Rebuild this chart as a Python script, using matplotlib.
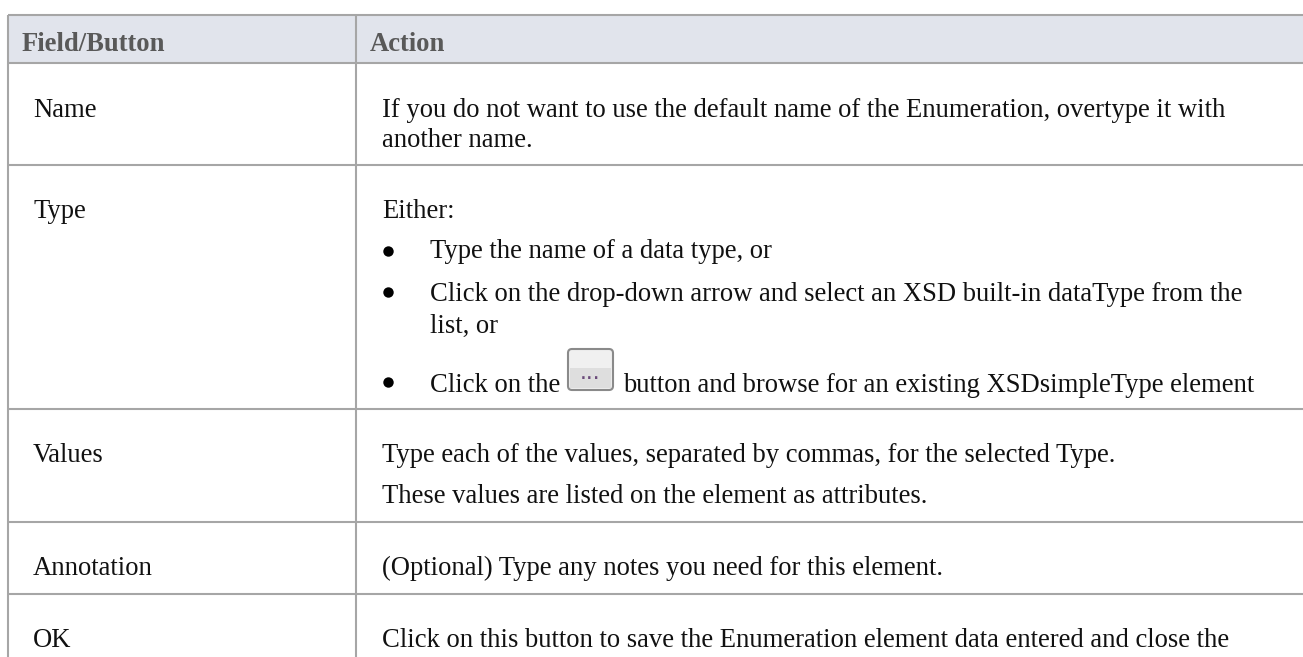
"""Enumeration dialog field table, drawn as a plain matplotlib figure."""

import matplotlib
matplotlib.use("Agg")
import matplotlib.pyplot as plt
from matplotlib.patches import FancyBboxPatch, Rectangle

# ── table content ─────────────────────────────────────────────
HEADERS = ["Field/Button", "Action"]
FIELDS = ["Name", "Type", "Values", "Annotation", "OK"]
NAME_LINES = [
    "If you do not want to use the default name of the Enumeration, overtype it with",
    "another name.",
]
TYPE_INTRO = "Either:"
TYPE_BULLETS = [
    "Type the name of a data type, or",
    "Click on the drop-down arrow and select an XSD built-in dataType from the",
    "list, or",
]
BUTTON_BEFORE = "Click on the"
BUTTON_LABEL = "..."
BUTTON_AFTER = "button and browse for an existing XSDsimpleType element"
VALUES_LINES = [
    "Type each of the values, separated by commas, for the selected Type.",
    "These values are listed on the element as attributes.",
]
ANNOTATION_LINE = "(Optional) Type any notes you need for this element."
OK_LINE = "Click on this button to save the Enumeration element data entered and close the"

# ── geometry in image pixels ──────────────────────────────────
W, H = 1303, 657
LEFT, MID = 8, 356
ROW_LINES = [15, 63, 165, 409, 522, 594]
FIELD_BASELINES = [117, 218, 462, 575, 647]
GREY = "#a6a6a6"
HEADER_BG = "#e1e4ec"
INK = "#111111"
FS = 19.2

fig = plt.figure(figsize=(W / 100, H / 100), dpi=100)
ax = fig.add_axes([0, 0, 1, 1])
ax.set_xlim(0, W)
ax.set_ylim(H, 0)
ax.axis("off")

ax.add_patch(Rectangle((LEFT, ROW_LINES[0]), W - LEFT, ROW_LINES[1] - ROW_LINES[0],
                       facecolor=HEADER_BG, edgecolor="none"))
for y in ROW_LINES:
    ax.plot([LEFT, W], [y, y], color=GREY, lw=1.5, solid_capstyle="butt")
for x in (LEFT, MID):
    ax.plot([x, x], [ROW_LINES[0], H], color=GREY, lw=1.5, solid_capstyle="butt")


def put(x, y, s, **kw):
    kw.setdefault("color", INK)
    ax.text(x, y, s, family="Liberation Serif", fontsize=FS, va="baseline", ha="left", **kw)


# header row
put(22, 51, HEADERS[0], weight="bold", color="#595959")
put(370, 51, HEADERS[1], weight="bold", color="#595959")

# left column
for name, y in zip(FIELDS, FIELD_BASELINES):
    put(33, y, name)

# right column
TX, BT, BX = 382, 430, 388
put(TX, 117, NAME_LINES[0])
put(TX, 147, NAME_LINES[1])

put(TX, 218, TYPE_INTRO)
put(BT, 258, TYPE_BULLETS[0])
put(BT, 301, TYPE_BULLETS[1])
put(BT, 333, TYPE_BULLETS[2])
for y in (251, 292, 382):
    ax.plot([BX], [y], "o", color="black", ms=7.5, mew=0)

put(BT, 392, BUTTON_BEFORE)
put(623, 392, BUTTON_AFTER)

# the small "..." button inlined in the last bullet
ax.add_patch(FancyBboxPatch((568, 349), 45, 41, boxstyle="round,pad=0,rounding_size=4",
                            facecolor="#f0f0f0", edgecolor="#8a8a8a", lw=1.5))
ax.add_patch(Rectangle((570, 368), 41, 20, facecolor="#dedede", edgecolor="none"))
ax.text(590.5, 379, BUTTON_LABEL, family="Liberation Sans", fontsize=18, color="#6a4a7a",
        ha="center", va="baseline")

put(TX, 462, VALUES_LINES[0])
put(TX, 503, VALUES_LINES[1])
put(TX, 575, ANNOTATION_LINE)
put(TX, 647, OK_LINE)

fig.savefig("out.png", dpi=100)
